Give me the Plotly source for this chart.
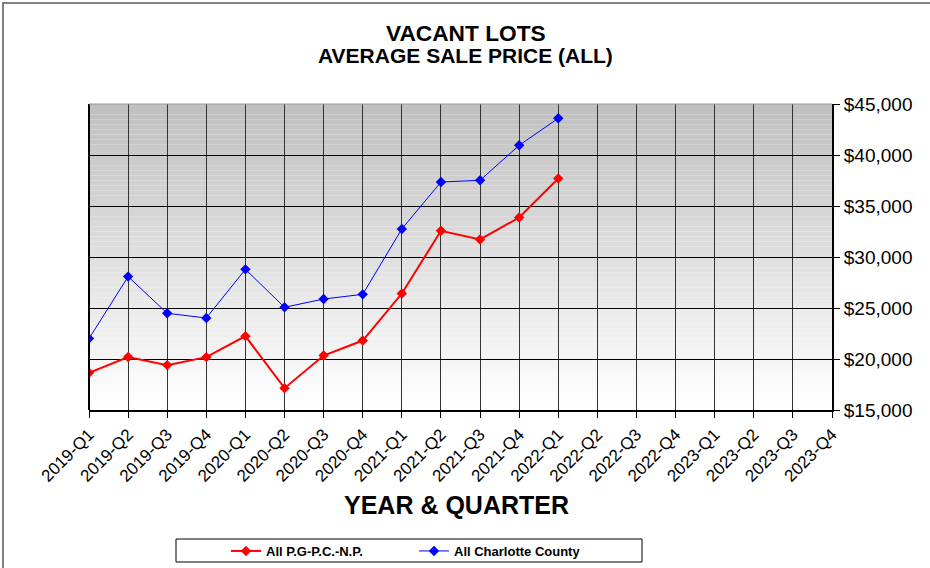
import plotly.graph_objects as go

quarters = ["2019-Q1", "2019-Q2", "2019-Q3", "2019-Q4",
            "2020-Q1", "2020-Q2", "2020-Q3", "2020-Q4",
            "2021-Q1", "2021-Q2", "2021-Q3", "2021-Q4",
            "2022-Q1", "2022-Q2", "2022-Q3", "2022-Q4",
            "2023-Q1", "2023-Q2", "2023-Q3", "2023-Q4"]

pgpc_quarters = quarters[:13]
pgpc_values = [18650, 20200, 19400, 20180, 22240, 17140, 20340, 21810,
               26420, 32570, 31720, 33870, 37700]

county_quarters = quarters[:13]
county_values = [22000, 28080, 24480, 24020, 28790, 25070, 25880, 26340,
                 32750, 37350, 37520, 40950, 43600]

y_ticks = [15000, 20000, 25000, 30000, 35000, 40000, 45000]

FONT = "Arial, Liberation Sans, sans-serif"

W, H = 930, 568
L, R, T, B = 89, 98, 104, 158
PW, PH = W - L - R, H - T - B


def px_x(p):
    return (p - L) / PW


def px_y(p):
    return (H - B - p) / PH


fig = go.Figure()

fig.add_trace(go.Scatter(
    x=pgpc_quarters, y=pgpc_values, name="All P.G-P.C.-N.P.",
    mode="lines+markers",
    line=dict(color="#ff0000", width=2),
    marker=dict(symbol="diamond", size=8, color="#ff0000"),
))
fig.add_trace(go.Scatter(
    x=county_quarters, y=county_values, name="All Charlotte County",
    mode="lines+markers",
    line=dict(color="#0000ff", width=1),
    marker=dict(symbol="diamond", size=8, color="#0000ff"),
))

shapes = []
# gradient background of the plot area
N = 60
for i in range(N):
    t = i / (N - 1)
    c = int(round(255 - (255 - 192) * t))
    shapes.append(dict(
        type="rect", xref="x domain", yref="y domain",
        x0=0, x1=1, y0=i / N, y1=(i + 1) / N,
        fillcolor=f"rgb({c},{c},{c})", line=dict(width=0), layer="below",
    ))
# plot borders
shapes.append(dict(type="line", xref="x domain", yref="y domain",
                   x0=0, x1=0, y0=0, y1=1, line=dict(color="black", width=2)))
shapes.append(dict(type="line", xref="x domain", yref="y domain",
                   x0=0, x1=1, y0=1, y1=1, line=dict(color="#999999", width=1)))
# legend box
shapes.append(dict(type="rect", xref="paper", yref="paper",
                   x0=px_x(176), x1=px_x(642), y0=px_y(562), y1=px_y(539),
                   line=dict(color="black", width=1), fillcolor="white", layer="below"))
# blank right margin (keeps the corner clean)
shapes.append(dict(type="rect", xref="paper", yref="paper",
                   x0=px_x(918), x1=px_x(931), y0=px_y(568), y1=px_y(5),
                   line=dict(width=0), fillcolor="white", layer="above"))
# outer frame (top and left)
shapes.append(dict(type="line", xref="paper", yref="paper",
                   x0=px_x(2), x1=px_x(930), y0=px_y(3), y1=px_y(3),
                   line=dict(color="#808080", width=2)))
shapes.append(dict(type="line", xref="paper", yref="paper",
                   x0=px_x(3), x1=px_x(3), y0=px_y(2), y1=px_y(568),
                   line=dict(color="#808080", width=2)))

fig.update_layout(
    width=W, height=H,
    margin=dict(l=L, r=R, t=T, b=B, autoexpand=False),
    paper_bgcolor="white", plot_bgcolor="rgba(0,0,0,0)",
    font=dict(family=FONT, color="black"),
    shapes=shapes,
    showlegend=True,
    legend=dict(
        orientation="h", xanchor="left", yanchor="middle",
        x=px_x(226), y=px_y(551),
        bgcolor="rgba(0,0,0,0)", borderwidth=0,
        font=dict(family=FONT, size=13, color="black", weight="bold"),
        itemwidth=30, entrywidth=143, entrywidthmode="pixels",
        traceorder="normal",
    ),
    annotations=[
        dict(text="<b>VACANT LOTS</b>",
             xref="paper", yref="paper", x=px_x(466), y=px_y(33),
             xanchor="center", yanchor="middle", showarrow=False,
             font=dict(family=FONT, size=22.7, color="black")),
        dict(text="<b>AVERAGE SALE PRICE (ALL)</b>",
             xref="paper", yref="paper", x=px_x(465), y=px_y(56),
             xanchor="center", yanchor="middle", showarrow=False,
             font=dict(family=FONT, size=21, color="black")),
        dict(text="<b>YEAR & QUARTER</b>",
             xref="paper", yref="paper", x=px_x(456), y=px_y(505),
             xanchor="center", yanchor="middle", showarrow=False,
             font=dict(family=FONT, size=25, color="black")),
    ],
    hovermode=False,
)

fig.update_xaxes(
    type="category", categoryorder="array", categoryarray=quarters,
    tickmode="array", tickvals=quarters, ticktext=quarters,
    range=[0, len(quarters) - 1],
    showgrid=True, gridcolor="#333333", gridwidth=1,
    showline=True, linecolor="black", linewidth=2,
    ticks="outside", ticklen=6, tickcolor="black", tickwidth=1,
    tickangle=-45, tickfont=dict(family=FONT, size=17, color="black"),
    zeroline=False, fixedrange=True,
)
fig.update_yaxes(
    side="right", range=[15000, 45000],
    tickmode="array", tickvals=y_ticks,
    ticktext=[f"${v:,}" for v in y_ticks],
    showgrid=True, gridcolor="black", gridwidth=1,
    showline=True, linecolor="black", linewidth=2,
    ticks="outside", ticklen=6, tickcolor="black", tickwidth=1,
    tickfont=dict(family=FONT, size=19, color="black"),
    zeroline=False, fixedrange=True,
)

fig.write_html(
    "out.html",
    config={"displayModeBar": False},
    post_script=(
        "document.body.style.margin='0';"
        "document.body.style.overflow='hidden';"
        "document.documentElement.style.overflow='hidden';"
    ),
)
